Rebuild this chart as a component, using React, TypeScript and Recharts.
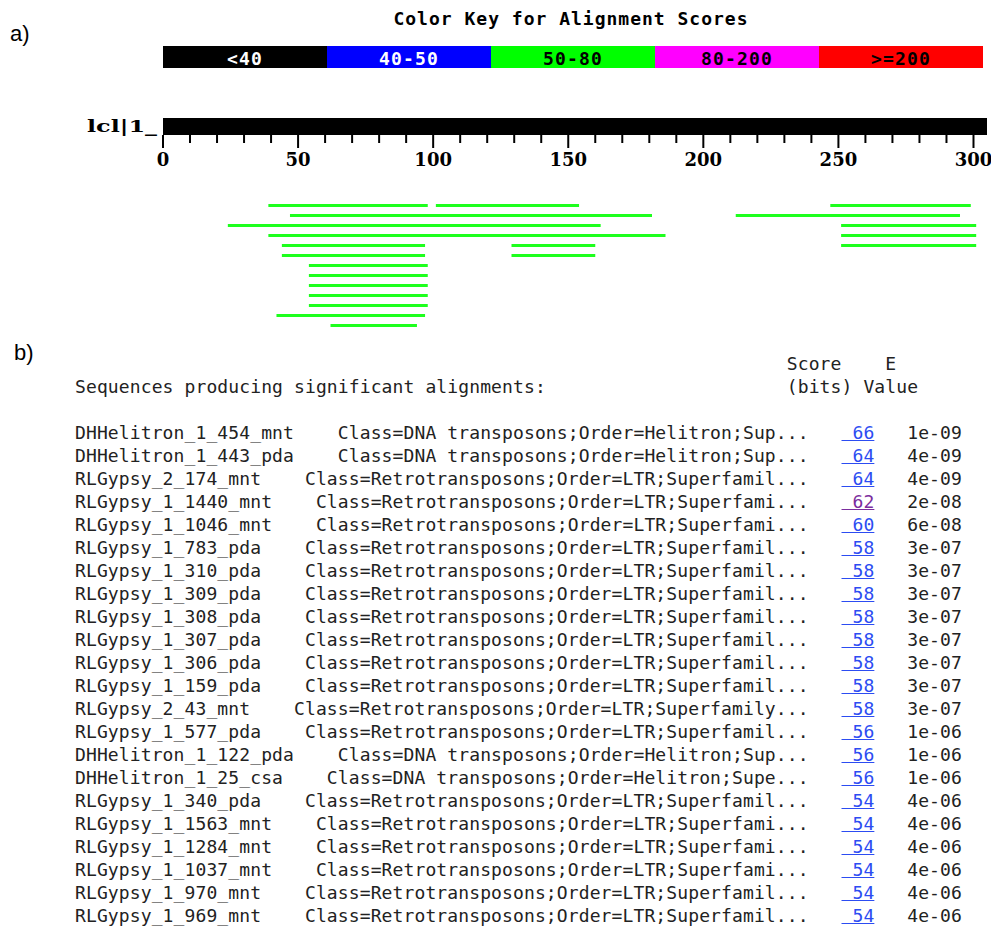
import React from "react";
import { BarChart, Bar, XAxis, YAxis } from "recharts";

// colour key
const KEY_LABELS = ["<40", "40-50", "50-80", "80-200", ">=200"];
const KEY_COLORS = ["#000000", "#0000ff", "#00ff00", "#ff00ff", "#ff0000"];
const KEY_TEXT = ["#ffffff", "#ffffff", "#000000", "#000000", "#000000"];

// query sequence
const QUERY_NAME = "lcl|1_";
const QUERY_LENGTH = 305;
const AXIS_TICKS = [0, 10, 20, 30, 40, 50, 60, 70, 80, 90, 100, 110, 120, 130, 140, 150,
  160, 170, 180, 190, 200, 210, 220, 230, 240, 250, 260, 270, 280, 290, 300];
const MAJOR_EVERY = 50;

// hits, one row each, up to three segments [start, end]
const HIT_SEG1: [number, number][] = [
  [39, 98], [47, 181], [24, 162], [39, 186], [44, 97], [44, 97],
  [54, 98], [54, 98], [54, 98], [54, 98], [54, 98], [42, 97], [62, 94],
];
const HIT_SEG2: ([number, number] | null)[] = [
  [101, 154], [212, 295], [251, 301], [251, 301], [129, 160], [129, 160],
  null, null, null, null, null, null, null,
];
const HIT_SEG3: ([number, number] | null)[] = [
  [247, 299], null, null, null, [251, 301], null,
  null, null, null, null, null, null, null,
];

// alignment table
const NAMES = [
  "DHHelitron_1_454_mnt", "DHHelitron_1_443_pda", "RLGypsy_2_174_mnt", "RLGypsy_1_1440_mnt",
  "RLGypsy_1_1046_mnt", "RLGypsy_1_783_pda", "RLGypsy_1_310_pda", "RLGypsy_1_309_pda",
  "RLGypsy_1_308_pda", "RLGypsy_1_307_pda", "RLGypsy_1_306_pda", "RLGypsy_1_159_pda",
  "RLGypsy_2_43_mnt", "RLGypsy_1_577_pda", "DHHelitron_1_122_pda", "DHHelitron_1_25_csa",
  "RLGypsy_1_340_pda", "RLGypsy_1_1563_mnt", "RLGypsy_1_1284_mnt", "RLGypsy_1_1037_mnt",
  "RLGypsy_1_970_mnt", "RLGypsy_1_969_mnt",
];
const HEL = "Class=DNA transposons;Order=Helitron;Sup...";
const LTR = "Class=Retrotransposons;Order=LTR;Superfamil...";
const LTR_S = "Class=Retrotransposons;Order=LTR;Superfami...";
const DESCS = [
  HEL, HEL, LTR, LTR_S, LTR_S, LTR, LTR, LTR, LTR, LTR, LTR, LTR,
  "Class=Retrotransposons;Order=LTR;Superfamily...", LTR, HEL,
  "Class=DNA transposons;Order=Helitron;Supe...", LTR, LTR_S, LTR_S, LTR_S, LTR, LTR,
];
const SCORES = [66, 64, 64, 62, 60, 58, 58, 58, 58, 58, 58, 58, 58, 56, 56, 56, 54, 54, 54, 54, 54, 54];
const EVALUES = [
  "1e-09", "4e-09", "4e-09", "2e-08", "6e-08", "3e-07", "3e-07", "3e-07", "3e-07", "3e-07", "3e-07",
  "3e-07", "3e-07", "1e-06", "1e-06", "1e-06", "4e-06", "4e-06", "4e-06", "4e-06", "4e-06", "4e-06",
];
const VISITED = [false, false, false, true];

const keyData = [
  KEY_LABELS.reduce((o: Record<string, number | string>, _l, i) => {
    o["k" + i] = 1;
    return o;
  }, { name: "key" }),
];
const queryData = [{ name: QUERY_NAME, span: [0, QUERY_LENGTH] }];
const hitData = HIT_SEG1.map((s, i) => ({
  row: "hit" + i,
  s1: s,
  s2: HIT_SEG2[i],
  s3: HIT_SEG3[i],
}));

const AxisTick = ({ x, y, payload }: any) => {
  const major = payload.value % MAJOR_EVERY === 0;
  return (
    <g>
      <line x1={x} y1={y} x2={x} y2={y + (major ? 13 : 8)} stroke="#000" strokeWidth={2} />
      {major && (
        <text x={x} y={y + 31} textAnchor="middle" fontFamily="DejaVu Serif"
          fontWeight="bold" fontSize={18} fill="#000">
          {payload.value}
        </text>
      )}
    </g>
  );
};

const QueryLabel = ({ x, y, payload }: any) => (
  <text x={x} y={y + 5} textAnchor="end" fontFamily="DejaVu Serif" fontWeight="bold"
    fontSize={17} fill="#000" textLength={70} lengthAdjust="spacingAndGlyphs">
    {payload.value}
  </text>
);

const keyLabel = (i: number) => (p: any) => (
  <text x={p.x + p.width / 2} y={p.y + p.height / 2 + 8} textAnchor="middle"
    fontFamily="DejaVu Sans Mono" fontWeight="bold" fontSize={18}
    style={{ letterSpacing: 1.2 }} fill={KEY_TEXT[i]}>
    {KEY_LABELS[i]}
  </text>
);

const MONO: React.CSSProperties = {
  fontFamily: "DejaVu Sans Mono",
  fontSize: 18,
  letterSpacing: 0.113,
  lineHeight: "23px",
  height: 23,
  whiteSpace: "pre",
  color: "#222",
};

export default function App() {
  return (
    <div style={{ position: "absolute", left: 0, top: 0, width: 991, height: 926, background: "#fff" }}>
      <div style={{ position: "absolute", left: 10, top: 23, fontFamily: "Liberation Sans", fontSize: 22, lineHeight: "22px" }}>
        a)
      </div>
      <div style={{
        position: "absolute", left: 371, top: 10, width: 400, textAlign: "center",
        fontFamily: "DejaVu Sans Mono", fontWeight: "bold", fontSize: 18, lineHeight: "18px",
        letterSpacing: 1.0, whiteSpace: "pre",
      }}>
        Color Key for Alignment Scores
      </div>

      <div style={{ position: "absolute", left: 0, top: 0 }}>
        <BarChart width={991} height={80} data={keyData} layout="vertical"
          margin={{ top: 46, right: 8, bottom: 12, left: 163 }} barCategoryGap={0}>
          <XAxis type="number" domain={[0, KEY_LABELS.length]} hide />
          <YAxis type="category" dataKey="name" hide />
          {KEY_LABELS.map((l, i) => (
            <Bar key={l} dataKey={"k" + i} stackId="key" fill={KEY_COLORS[i]}
              isAnimationActive={false} label={keyLabel(i)} />
          ))}
        </BarChart>
      </div>

      <div style={{ position: "absolute", left: 0, top: 100 }}>
        <BarChart width={991} height={80} data={queryData} layout="vertical"
          margin={{ top: 18, right: 4, bottom: 0, left: 0 }} barCategoryGap={0}>
          <XAxis type="number" domain={[0, QUERY_LENGTH]} ticks={AXIS_TICKS} interval={0}
            axisLine={false} tickLine={false} tickSize={0} tickMargin={0} height={45}
            tick={<AxisTick />} />
          <YAxis type="category" dataKey="name" width={163} axisLine={false} tickLine={false}
            tickSize={0} tickMargin={6} tick={<QueryLabel />} />
          <Bar dataKey="span" fill="#000" isAnimationActive={false} />
        </BarChart>
      </div>

      <div style={{ position: "absolute", left: 0, top: 200 }}>
        <BarChart width={991} height={130} data={hitData} layout="vertical"
          margin={{ top: 0, right: 4, bottom: 0, left: 163 }} barGap={-3}>
          <XAxis type="number" domain={[0, QUERY_LENGTH]} hide />
          <YAxis type="category" dataKey="row" hide />
          <Bar dataKey="s1" barSize={3} fill="#1eff1e" isAnimationActive={false} />
          <Bar dataKey="s2" barSize={3} fill="#1eff1e" isAnimationActive={false} />
          <Bar dataKey="s3" barSize={3} fill="#1eff1e" isAnimationActive={false} />
        </BarChart>
      </div>

      <div style={{ position: "absolute", left: 14, top: 342, fontFamily: "Liberation Sans", fontSize: 22, lineHeight: "22px" }}>
        b)
      </div>

      <div style={{ position: "absolute", left: 75, top: 352 }}>
        <div style={MONO}>{" ".repeat(65) + "Score    E"}</div>
        <div style={MONO}>{"Sequences producing significant alignments:".padEnd(65) + "(bits) Value"}</div>
        <div style={MONO}>{" "}</div>
        {NAMES.map((n, i) => (
          <div key={n} style={MONO}>
            <span>{(n + "    " + DESCS[i]).padEnd(70)}</span>
            <a href="#" style={{ color: VISITED[i] ? "#7b2d9e" : "#2c4cf2", textDecoration: "underline" }}>
              {" " + SCORES[i]}
            </a>
            <span>{"   " + EVALUES[i]}</span>
          </div>
        ))}
      </div>
    </div>
  );
}
